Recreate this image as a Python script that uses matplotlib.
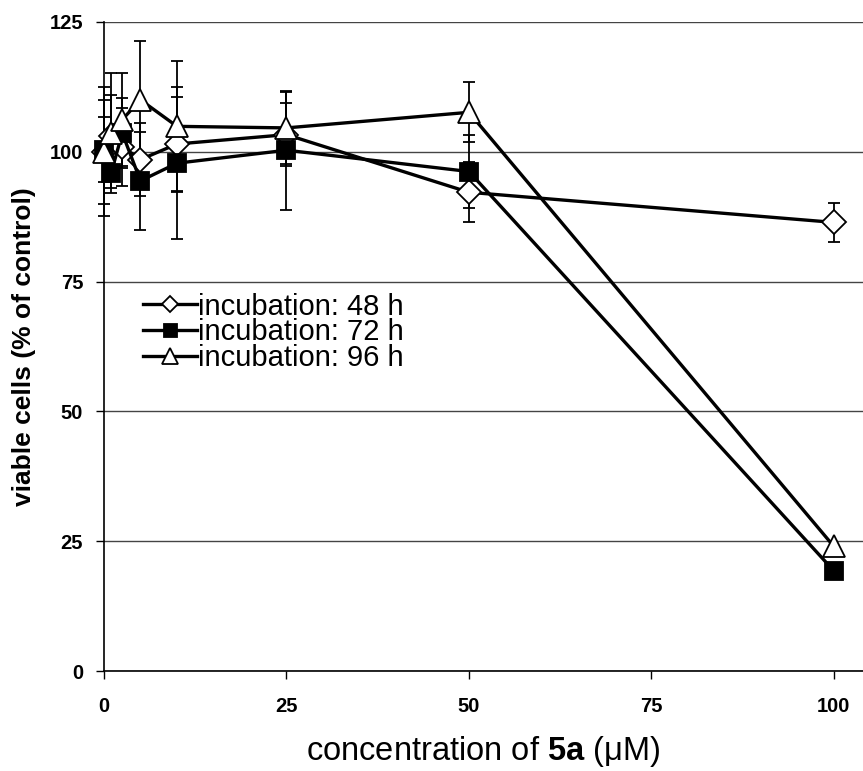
import numpy as np
import matplotlib
matplotlib.use("Agg")
import matplotlib.pyplot as plt

plt.rcParams['font.family'] = ['Liberation Sans', 'DejaVu Sans']
plt.rcParams['mathtext.fontset'] = 'custom'
plt.rcParams['mathtext.rm'] = 'Liberation Sans'
plt.rcParams['mathtext.bf'] = 'Liberation Sans:bold'

# concentrations (uM)
conc = [0, 1, 2.5, 5, 10, 25, 50, 100]

# viable cells (% of control) and error bars
h48 = [100, 103, 101, 98.5, 101.5, 103.3, 92.2, 86.4]
h48_err = [10, 8, 7.5, 7, 9, 6, 5.8, 3.7]
h72 = [100.4, 96, 103.6, 94.4, 97.8, 100.3, 96.2, 19.3]
h72_err = [6.3, 3, 6.7, 9.4, 14.6, 11.5, 7, 0]
h96 = [100, 103.6, 106.2, 110, 104.9, 104.6, 107.6, 24]
h96_err = [12.4, 11.5, 9, 11.4, 12.6, 7, 5.8, 0]

labels = ['incubation: 48 h', 'incubation: 72 h', 'incubation: 96 h']
xticks = [0, 25, 50, 75, 100]
yticks = [0, 25, 50, 75, 100, 125]

fig = plt.figure(figsize=(8.63, 7.71), dpi=100)
ax = fig.add_axes([0.1205, 0.1297, 0.8795, 0.8418])

series = [
    (h48, h48_err, 'D', 'white', 12),
    (h72, h72_err, 's', 'black', 13),
    (h96, h96_err, '^', 'white', 16),
]

# error bars first, behind the markers
for vals, err, m, fc, ms in series:
    eb = ax.errorbar(conc, vals, yerr=err, fmt='none', ecolor='black',
                     elinewidth=1.3, capsize=4, capthick=1.3, zorder=2)
    for a in eb.lines[1] + eb.lines[2]:
        a.set_clip_on(False)

handles = []
for i, (vals, err, m, fc, ms) in enumerate(series):
    h, = ax.plot(conc, vals, color='black', lw=2.4, marker=m, ms=ms,
                 markerfacecolor=fc, markeredgecolor='black', mew=1.3,
                 label=labels[i], zorder=3 + i, clip_on=False)
    handles.append(h)

ax.set_xlim(0, 104)
ax.set_ylim(0, 125)
ax.set_xticks(xticks)
ax.set_yticks(yticks)
ax.set_xticklabels([str(t) for t in xticks], fontweight='bold', fontsize=14.5)
ax.set_yticklabels([str(t) for t in yticks], fontweight='bold', fontsize=14.5)
ax.tick_params(axis='both', direction='out', length=6, width=1, color='black')
ax.tick_params(axis='x', pad=13)
ax.tick_params(axis='y', pad=9)

ax.yaxis.grid(True, color='#444444', lw=1)
ax.set_axisbelow(True)
for s in ['top', 'right']:
    ax.spines[s].set_visible(False)
ax.spines['left'].set_linewidth(1.2)
ax.spines['bottom'].set_linewidth(1.2)

ax.set_ylabel('viable cells (% of control)', fontsize=19, fontweight='bold', labelpad=10)
ax.set_xlabel('concentration of $\\mathbf{5a}$ ($\\mathrm{\\mu}$M)', fontsize=23.5, labelpad=13)

ax.legend(handles=handles, loc='upper left', bbox_to_anchor=(0.051, 0.583),
          frameon=False, fontsize=21, markerscale=0.72, handlelength=1.85,
          handletextpad=0.05, labelspacing=-0.08, borderaxespad=0, borderpad=0)

fig.savefig('out.png', dpi=100)
